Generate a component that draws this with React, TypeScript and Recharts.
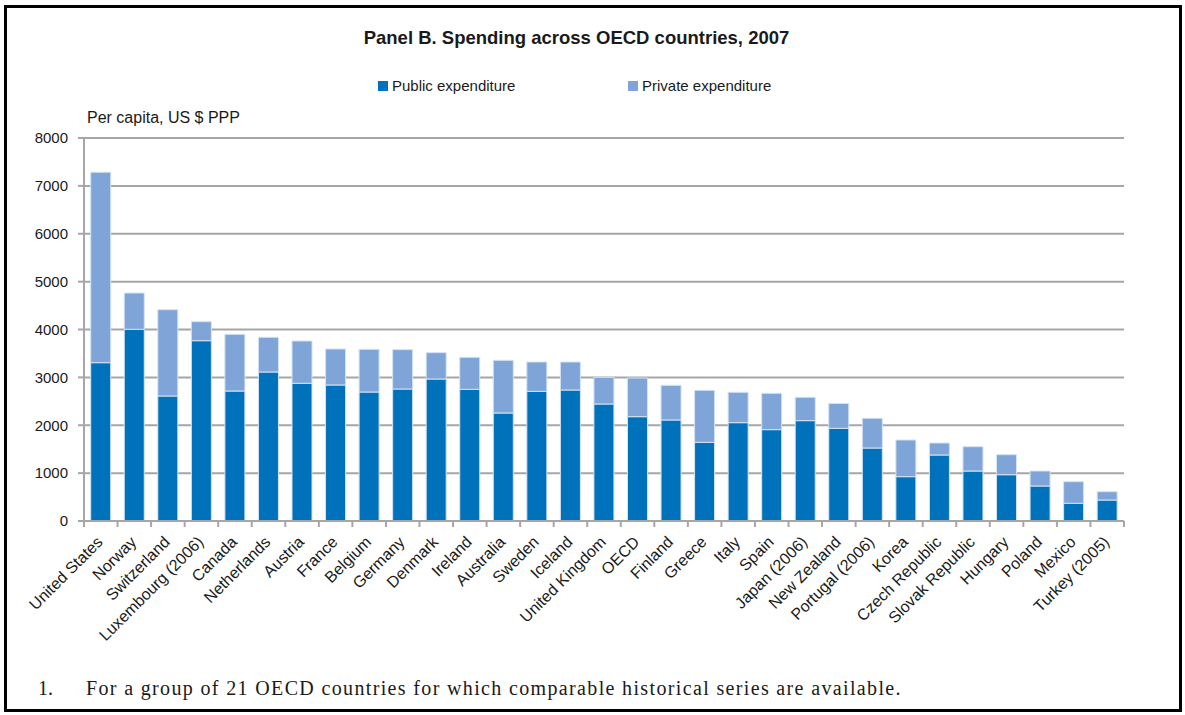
import { BarChart, Bar, XAxis, YAxis, CartesianGrid } from "recharts";

const COUNTRIES = [
  "United States", "Norway", "Switzerland", "Luxembourg (2006)", "Canada", "Netherlands",
  "Austria", "France", "Belgium", "Germany", "Denmark", "Ireland", "Australia", "Sweden",
  "Iceland", "United Kingdom", "OECD", "Finland", "Greece", "Italy", "Spain", "Japan (2006)",
  "New Zealand", "Portugal (2006)", "Korea", "Czech Republic", "Slovak Republic", "Hungary",
  "Poland", "Mexico", "Turkey (2005)",
];

const PUBLIC = [
  3307, 4004, 2611, 3766, 2715, 3112, 2876, 2841, 2694, 2757, 2966, 2750, 2256, 2708,
  2736, 2444, 2179, 2110, 1643, 2054, 1908, 2096, 1936, 1525, 926, 1379, 1044, 967,
  731, 370, 438,
];

const TOTAL = [
  7285, 4762, 4414, 4163, 3899, 3837, 3760, 3593, 3586, 3579, 3516, 3419, 3356, 3321,
  3321, 3001, 2987, 2834, 2729, 2688, 2667, 2584, 2455, 2145, 1692, 1629, 1552, 1385,
  1044, 821, 612,
];

const Y_TICKS = [0, 1000, 2000, 3000, 4000, 5000, 6000, 7000, 8000];

const SERIES = [
  { key: "public", label: "Public expenditure", color: "#0071bb" },
  { key: "private", label: "Private expenditure", color: "#7fa4d7" },
];

const data = COUNTRIES.map((name, i) => ({
  name,
  public: PUBLIC[i],
  private: TOTAL[i] - PUBLIC[i],
}));

const W = 1185;
const H = 715;
const PLOT_LEFT = 84;
const PLOT_RIGHT = 1124;
const PLOT_TOP = 138;
const PLOT_BOTTOM = 521;
const STEP = (PLOT_RIGHT - PLOT_LEFT) / COUNTRIES.length;
const AXIS_GREY = "#a6a6a6";
const SANS = "'Liberation Sans', Arial, sans-serif";
const TEXT = "#1a1a1a";

function CountryTick(props: any) {
  const { x, y, payload, index } = props;
  const isLast = index === COUNTRIES.length - 1;
  const ax = x + 3;
  const ay = y + 22;
  return (
    <g>
      <line x1={x - STEP / 2} x2={x - STEP / 2} y1={y} y2={y + 6} stroke={AXIS_GREY} strokeWidth={2} />
      {isLast && (
        <line x1={x + STEP / 2} x2={x + STEP / 2} y1={y} y2={y + 6} stroke={AXIS_GREY} strokeWidth={2} />
      )}
      <text
        x={ax}
        y={ay}
        textAnchor="end"
        transform={`rotate(-45, ${ax}, ${ay})`}
        fontSize={16}
        fontFamily={SANS}
        fill={TEXT}
      >
        {payload.value}
      </text>
    </g>
  );
}

export default function App() {
  return (
    <div style={{ position: "relative", width: W, height: H, background: "#fff", overflow: "hidden" }}>
      <style>{`body{margin:0}`}</style>
      <div
        style={{
          position: "absolute",
          left: 4,
          top: 5,
          width: 1178,
          height: 707,
          border: "3px solid #000",
          boxSizing: "border-box",
        }}
      />
      <div
        style={{
          position: "absolute",
          left: 0,
          width: 1153,
          top: 27,
          textAlign: "center",
          fontFamily: SANS,
          fontWeight: "bold",
          fontSize: 18.5,
          color: TEXT,
        }}
      >
        Panel B. Spending across OECD countries, 2007
      </div>
      {SERIES.map((s, i) => (
        <div
          key={s.key}
          style={{
            position: "absolute",
            left: i === 0 ? 378 : 628,
            top: 77,
            display: "flex",
            alignItems: "center",
            fontFamily: SANS,
            fontSize: 15,
            color: TEXT,
          }}
        >
          <span style={{ width: 10, height: 10, background: s.color, marginRight: 4, display: "inline-block" }} />
          {s.label}
        </div>
      ))}
      <div
        style={{
          position: "absolute",
          left: 87,
          top: 109,
          fontFamily: SANS,
          fontSize: 16,
          color: TEXT,
        }}
      >
        Per capita, US $ PPP
      </div>
      <div style={{ position: "absolute", left: 0, top: 0 }}>
        <BarChart
          width={W}
          height={H}
          data={data}
          margin={{ top: PLOT_TOP, right: W - PLOT_RIGHT, left: 0, bottom: 0 }}
          barCategoryGap="20%"
        >
          <CartesianGrid vertical={false} stroke={AXIS_GREY} strokeWidth={2} />
          <XAxis
            dataKey="name"
            height={H - PLOT_BOTTOM}
            interval={0}
            tickLine={false}
            tickSize={0}
            tickMargin={0}
            axisLine={{ stroke: AXIS_GREY, strokeWidth: 2 }}
            tick={<CountryTick />}
          />
          <YAxis
            width={PLOT_LEFT}
            domain={[0, 8000]}
            ticks={Y_TICKS}
            interval={0}
            tickSize={6}
            tickMargin={10}
            axisLine={{ stroke: AXIS_GREY, strokeWidth: 2 }}
            tickLine={{ stroke: AXIS_GREY, strokeWidth: 2 }}
            tick={{ fontSize: 15, fontFamily: SANS, fill: TEXT }}
          />
          {SERIES.map((s) => (
            <Bar
              key={s.key}
              dataKey={s.key}
              name={s.label}
              stackId="a"
              fill={s.color}
              stroke="#d4e2f2"
              strokeWidth={1}
              isAnimationActive={false}
            />
          ))}
        </BarChart>
      </div>
      <div
        style={{
          position: "absolute",
          left: 38,
          top: 677,
          fontFamily: "'Liberation Serif', 'Times New Roman', serif",
          fontSize: 20,
          color: TEXT,
          whiteSpace: "nowrap",
        }}
      >
        1.
        <span style={{ position: "absolute", left: 48, top: 0, letterSpacing: "1.35px" }}>
          For a group of 21 OECD countries for which comparable historical series are available.
        </span>
      </div>
    </div>
  );
}
